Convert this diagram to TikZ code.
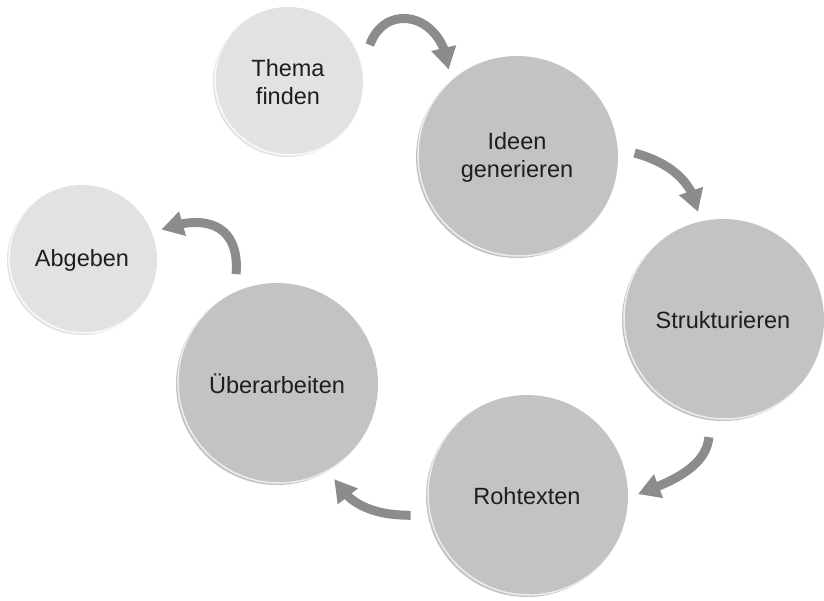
\documentclass[tikz,border=0pt]{standalone}
\usepackage{fontspec}
\setmainfont{Liberation Sans}
\usetikzlibrary{arrows.meta,bending}

\definecolor{hell}{HTML}{E2E2E2}
\definecolor{dunkel}{HTML}{C3C3C3}
\definecolor{pfeilgrau}{HTML}{8C8C8C}
\definecolor{schrift}{HTML}{1E1E1E}

\tikzset{
  klein/.style={circle, fill=hell, minimum size=150pt, inner sep=0pt, outer sep=10pt,
    text=schrift, align=center, font=\fontsize{23.5}{28}\selectfont,
    path picture={\draw[white, opacity=.8, line width=1.5pt]
      ([shift={(2pt,2pt)}]path picture bounding box.center) circle[radius=75pt];}},
  gross/.style={klein, fill=dunkel, minimum size=202pt,
    path picture={\draw[white, opacity=.7, line width=1.5pt]
      ([shift={(2pt,2pt)}]path picture bounding box.center) circle[radius=101pt];}},
  pfeil/.style={draw=pfeilgrau, line width=9pt, shorten <=7pt,
    -{Triangle[width=24pt, length=22pt, flex]}}
}

\begin{document}
\begin{tikzpicture}[x=1pt, y=1pt]
            \useasboundingbox (0,0) rectangle (824,-600);

            \node (1) [klein] at (288,-82) {Thema\\finden};
            \node (2) [gross] at ([shift={(229,-75)}]1) {Ideen\\generieren};
            \node (3) [gross] at ([shift={(206,-163)}]2) {Strukturieren};
            \node (4) [gross] at ([shift={(-196,-176)}]3) {Rohtexten};
            \node (5) [gross] at ([shift={(-250,112)}]4) {Überarbeiten};
            \node (6) [klein] at ([shift={(-195,124)}]5) {Abgeben};

            \path
            (1.21) edge[pfeil, out=70, in=95, looseness=1.7] (2.128)
            (2.3) edge[pfeil, out=-15, in=100] (3.103)
            (3.-97) edge[pfeil, out=-95, in=20] (4.1)
            (4.190) edge[pfeil, out=180, in=-60] (5.-59)
            (5.112) edge[pfeil, out=85, in=20, looseness=1.5] (6.21);

        \end{tikzpicture}
\end{document}
